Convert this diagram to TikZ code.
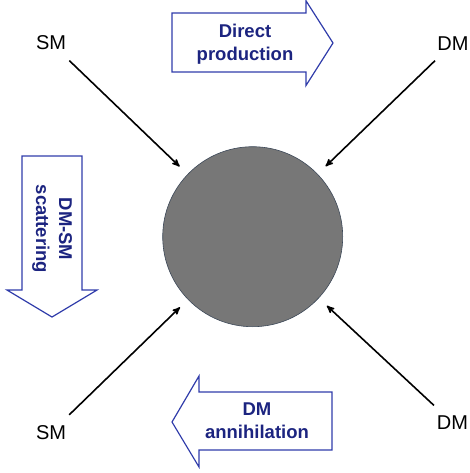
\documentclass[tikz,border=0pt]{standalone}
\usepackage{fontspec}
\setsansfont{Liberation Sans}
\usetikzlibrary{shapes,arrows,positioning,calc}
\definecolor{navytekst}{RGB}{28,36,128}
\definecolor{blokkblaa}{RGB}{48,60,170}
\definecolor{boblegraa}{RGB}{119,119,119}
\definecolor{bobledraw}{RGB}{60,72,88}
\tikzset{
  %Define standard arrow tip
  >=stealth',
  %Define style for particle labels
  partikkel/.style={
    font=\sffamily\fontsize{20}{24}\selectfont,
    inner sep=2pt},
  %Define style for block arrows
  blokk/.style={
    draw=blokkblaa,
    line width=1.2pt,
    line join=miter},
  %Define style for texts in block arrows
  blokktekst/.style={
    font=\sffamily\bfseries\fontsize{18.5}{23}\selectfont,
    text=navytekst,
    align=center,
    inner sep=0pt},
  % Define arrow style
  pil/.style={
    ->,
    line width=1.6pt,
    shorten <=12pt,
    shorten >=11pt,}
}
\begin{document}
\begin{tikzpicture}[x=1pt,y=-1pt]
  \useasboundingbox (0,0) rectangle (469,473);
  \node[circle, minimum size=180pt, inner sep=0pt, fill=boblegraa,
        draw=bobledraw, line width=0.6pt] (boble) at (252.7,236.7) {};
  \node[partikkel] (smopp) at (51,43) {SM};
  \node[partikkel] (dmopp) at (453,43.3) {DM};
  \node[partikkel] (smned) at (51,432.5) {SM};
  \node[partikkel] (dmned) at (452.5,422.7) {DM};
  \path[pil]
  (smopp) edge (boble)
  (dmopp) edge (boble)
  (smned) edge (boble)
  (dmned) edge (boble)
  ;
  % block arrows
  \draw[blokk] (172,13) -- (306,13) -- (306,0.8) -- (333,43) -- (306,85.5)
    -- (306,72) -- (172,72) -- cycle;
  \draw[blokk] (22,156) -- (82,156) -- (82,290) -- (97,290) -- (52,317)
    -- (7,290) -- (22,290) -- cycle;
  \draw[blokk] (332,392) -- (199,392) -- (199,376) -- (172,422) -- (199,467)
    -- (199,450) -- (332,450) -- cycle;
  \node[blokktekst] (produksjon) at (245,44) {Direct\\production};
  \node[blokktekst, rotate=-90] (spredning) at (52,229) {DM-SM\\scattering};
  \node[blokktekst] (annihilasjon) at (257,421) {DM\\annihilation};
\end{tikzpicture}
\end{document}
